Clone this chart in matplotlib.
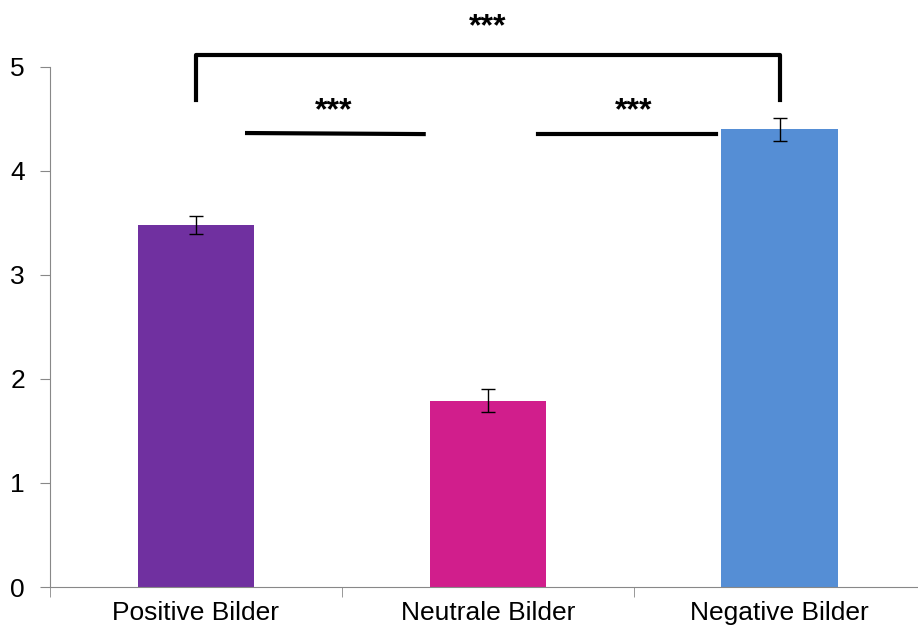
import matplotlib.pyplot as plt

plt.rcParams['font.family'] = ['Liberation Sans', 'DejaVu Sans']

categories = ['Positive Bilder', 'Neutrale Bilder', 'Negative Bilder']
means = [3.48, 1.79, 4.40]
errors = [0.09, 0.11, 0.11]
colors = ['#7030A0', '#D11E8C', '#558ED5']

fig = plt.figure(figsize=(9.18, 6.32), dpi=100)
ax = fig.add_axes([0.0545, 0.0712, 0.954, 0.8228])

x = range(len(categories))
ax.bar(x, means, width=0.4, color=colors, zorder=2)
ax.errorbar(x, means, yerr=errors, fmt='none', ecolor='black',
            elinewidth=1, capsize=5, capthick=1, zorder=3)

ax.set_xlim(-0.5, 2.5)
ax.set_ylim(0, 5)
ax.set_yticks(range(6))
ax.set_xticks(x)
ax.set_xticklabels(categories)
ax.set_xticks([-0.5, 0.5, 1.5, 2.5], minor=True)
ax.tick_params(axis='x', which='major', length=0, pad=10, labelsize=19)
ax.tick_params(axis='x', which='minor', length=7, color='#888888')
ax.tick_params(axis='y', length=7, color='#888888', labelsize=19, pad=11)
for side in ['top', 'right']:
    ax.spines[side].set_visible(False)
for side in ['left', 'bottom']:
    ax.spines[side].set_color('#888888')

# significance brackets
ax.plot([0.0, 0.0, 2.0, 2.0], [4.68, 5.115, 5.115, 4.68], color='black',
        lw=3, solid_joinstyle='round', clip_on=False)
ax.text(1.0, 5.31, '***', ha='center', va='baseline', fontsize=23,
        fontweight='bold', clip_on=False)
ax.plot([0.175, 0.78], [4.365, 4.355], color='black', lw=3, clip_on=False)
ax.text(0.47, 4.50, '***', ha='center', va='baseline', fontsize=23,
        fontweight='bold')
ax.plot([1.17, 1.78], [4.36, 4.36], color='black', lw=3, clip_on=False)
ax.text(1.5, 4.50, '***', ha='center', va='baseline', fontsize=23,
        fontweight='bold')

fig.savefig('out.png', dpi=100)
